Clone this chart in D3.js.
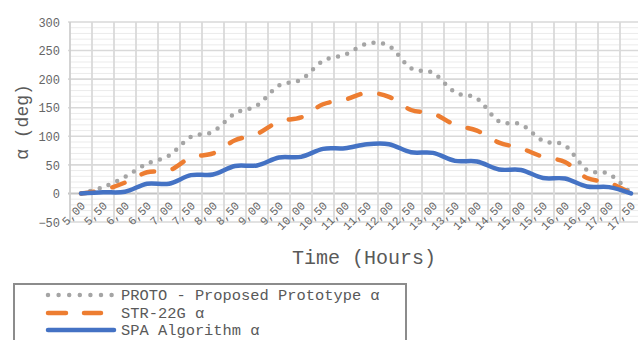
<!DOCTYPE html>
<html><head><meta charset="utf-8">
<script src="https://cdn.jsdelivr.net/npm/d3@7"></script>
<style>body{margin:0;background:#fff}svg{display:block}</style>
</head><body>
<svg id="c" width="638" height="340"></svg>
<script>
const categories = ["5,00","5,50","6,00","6,50","7,00","7,50","8,00","8,50","9,00","9,50","10,00","10,50","11,00","11,50","12,00","12,50","13,00","13,50","14,00","14,50","15,00","15,50","16,00","16,50","17,00","17,50"];
const protoValues = [0, 11, 29, 52, 66, 99, 108, 140, 154, 189, 199, 232, 243, 262, 258, 219, 211, 177, 166, 126, 121, 92, 84, 41, 34, 0];
const strValues   = [0, 6, 19, 37, 40, 63, 70, 93, 104, 126, 133, 156, 164, 176, 169, 146, 140, 120, 110, 89, 79, 64, 55, 27, 19, 0];
const spaValues   = [0, 2, 3, 17, 17, 32, 33, 48, 49, 63, 64, 78, 79, 86, 86, 72, 71, 57, 56, 42, 41, 27, 26, 12, 11, 0];
const yTicks = [-50, 0, 50, 100, 150, 200, 250, 300];
const seriesNames = ["PROTO - Proposed Prototype \u03b1", "STR-22G \u03b1", "SPA Algorithm \u03b1"];

const svg = d3.select("#c");
const mono = "'Liberation Mono', 'DejaVu Sans Mono', monospace";
const x = d3.scaleBand().domain(categories).range([70, 642]).padding(0);
const y = d3.scaleLinear().domain([-50, 300]).range([222, 22]);
const cx = c => x(c) + x.bandwidth() / 2;

// minor horizontal grid
const grid = svg.append("g");
grid.selectAll("line.minor").data(d3.range(-50, 301, 10).filter(v => v % 50 !== 0))
  .join("line").attr("x1", 70).attr("x2", 638).attr("y1", d => y(d)).attr("y2", d => y(d))
  .attr("stroke", "#ebebeb").attr("stroke-width", 1);
// major horizontal grid
grid.selectAll("line.major").data(yTicks).join("line")
  .attr("x1", 68).attr("x2", 638).attr("y1", d => y(d)).attr("y2", d => y(d))
  .attr("stroke", d => d === 0 ? "#c4c4c4" : "#d9d9d9").attr("stroke-width", d => d === 0 ? 2 : 1.6);
// vertical grid at category boundaries
grid.selectAll("line.v").data(categories).join("line")
  .attr("x1", d => x(d)).attr("x2", d => x(d)).attr("y1", y(300)).attr("y2", y(-50))
  .attr("stroke", d => d === categories[0] ? "#cfcfcf" : "#dadada").attr("stroke-width", 1.8);

// y axis labels
const yAxis = d3.axisLeft(y).tickValues(yTicks).tickSize(0).tickPadding(0);
const ya = svg.append("g").attr("transform", "translate(60,0)").call(yAxis);
ya.select(".domain").remove();
ya.selectAll("text").attr("font-family", mono).attr("font-size", 12).attr("fill", "#666").attr("dy", "0.35em");

// x axis labels (at value 0)
const xAxis = d3.axisBottom(x).tickSize(0).tickPadding(0);
const xa = svg.append("g").attr("transform", `translate(0,${y(0)})`).call(xAxis);
xa.select(".domain").remove();
xa.selectAll(".tick text")
  .attr("font-family", mono).attr("font-size", 11.5).attr("fill", "#666")
  .attr("text-anchor", "end").attr("dy", 0).attr("y", 0)
  .attr("transform", "translate(5,13) rotate(-45)");

// axis titles
svg.append("text").attr("x", 364).attr("y", 264).attr("text-anchor", "middle")
  .attr("font-family", mono).attr("font-size", 20).attr("fill", "#595959").text("Time (Hours)");
svg.append("text").attr("transform", "translate(28,122) rotate(-90)").attr("text-anchor", "middle")
  .attr("font-family", mono).attr("font-size", 18).attr("fill", "#595959").text("\u03b1 (deg)");

// series
const line = d3.line().x((d, i) => cx(categories[i])).y(d => y(d)).curve(d3.curveCardinal.tension(0));
const styles = [
  {data: protoValues, color: "#a5a5a5", width: 4.5, dash: "0 9.6"},
  {data: strValues, color: "#ed7d31", width: 4.5, dash: "13 19"},
  {data: spaValues, color: "#4472c4", width: 4.5, dash: null}
];
styles.forEach(s => {
  const p = svg.append("path").attr("d", line(s.data)).attr("fill", "none")
    .attr("stroke", s.color).attr("stroke-width", s.width).attr("stroke-linecap", "round").attr("stroke-linejoin", "round");
  if (s.dash) p.attr("stroke-dasharray", s.dash);
});

// legend
const lg = svg.append("g");
lg.append("rect").attr("x", 14).attr("y", 284).attr("width", 392).attr("height", 70)
  .attr("fill", "#fff").attr("stroke", "#8c8c8c").attr("stroke-width", 2);
const rowsY = [295, 313, 330];
styles.forEach((s, i) => {
  const l = lg.append("line").attr("x1", 48).attr("x2", s.dash ? 112 : 114).attr("y1", rowsY[i]).attr("y2", rowsY[i])
    .attr("stroke", s.color).attr("stroke-width", s.width).attr("stroke-linecap", "round");
  if (i === 0) l.attr("stroke-dasharray", "0 10.6");
  if (i === 1) l.attr("x2", 101).attr("stroke-dasharray", "18 18");
  lg.append("text").attr("x", 121).attr("y", rowsY[i] + 5).attr("font-family", mono).attr("font-size", 15.4)
    .attr("fill", "#595959").text(seriesNames[i]);
});
</script>
</body></html>
